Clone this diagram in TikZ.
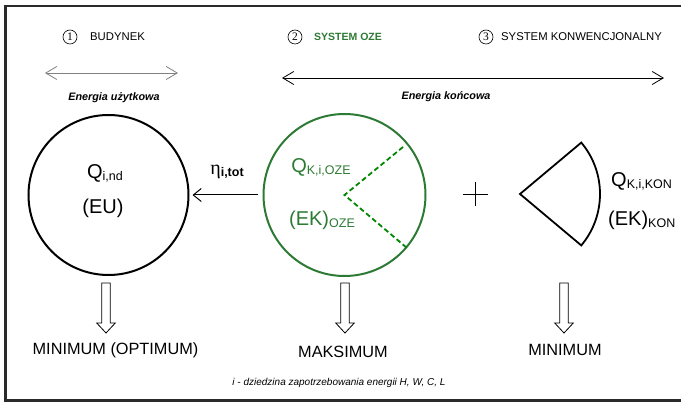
\documentclass[tikz,border=0pt]{standalone}
\usepackage{fontspec}
\setmainfont{Liberation Sans}
\newfontfamily\digitfont{Liberation Serif}
\usetikzlibrary{arrows.meta}
\definecolor{ozegreen}{RGB}{44,122,52}
\definecolor{dashgreen}{RGB}{0,135,0}
\definecolor{framegray}{RGB}{42,42,42}
\newcommand{\lowsub}[1]{\raisebox{-2pt}{\fontsize{12.5}{13}\selectfont #1}}
\begin{document}
\begin{tikzpicture}[x=1pt,y=-1pt,
	numcirc/.style={draw,circle,line width=0.6pt,inner sep=0pt,minimum size=14pt,font=\digitfont\fontsize{11.5}{12}\selectfont},
	headtxt/.style={anchor=west,inner sep=0pt,font=\fontsize{11.3}{12}\selectfont},
	spanarrow/.style={{Straight Barb[length=11pt,width=13pt]}-{Straight Barb[length=11pt,width=13pt]},line width=0.8pt},
	energytxt/.style={inner sep=0pt,font=\bfseries\itshape\fontsize{10.8}{12}\selectfont},
	bigtxt/.style={inner sep=0pt,font=\fontsize{20}{22}\selectfont},
	resulttxt/.style={inner sep=0pt,font=\fontsize{16.3}{18}\selectfont}]
	\useasboundingbox (0,0) rectangle (681,403);
	% frame
	\draw [framegray, line width=2.8pt] (681,6) -- (5.5,6) -- (5.5,400.5) -- (681,400.5);
	% headings
	\node [numcirc] (n1) at (70,37) {1};
	\node [headtxt] (bud_t) at (90,37) {BUDYNEK};
	\node [numcirc] (n2) at (295,37) {2};
	\node [headtxt, font=\bfseries\fontsize{10.5}{12}\selectfont, text=ozegreen] (oze_t) at (314,37) {SYSTEM OZE};
	\node [numcirc] (n3) at (486,37) {3};
	\node [headtxt] (kon_t) at (501,37) {SYSTEM KONWENCJONALNY};
	% ranges
	\coordinate (eu_l) at (45,73);
	\coordinate (eu_r) at (178,73);
	\draw [spanarrow, gray] (eu_l) -- (eu_r);
	\node [energytxt] (eu_lbl) at (114,98) {Energia użytkowa};
	\coordinate (ek_l) at (282,78);
	\coordinate (ek_r) at (664,78);
	\draw [spanarrow] (ek_l) -- (ek_r);
	\node [energytxt] (ek_lbl) at (446,97) {Energia końcowa};
	% circles
	\node [draw, circle, line width=2pt, minimum size=160pt] (bud) at (108.5,195) {};
	\node [draw = ozegreen, circle, line width=2pt, minimum size=162pt] (oze) at (344.5,195) {};
	\node [bigtxt] (qnd) at (105,173) {Q\lowsub{i,nd}};
	\node [bigtxt] (eu) at (103,208) {(EU)};
	\draw [-{Straight Barb[length=8pt,width=13pt]}, line width=1pt, shorten <=5pt, shorten >=3pt] (oze) -- (bud);
	\node [bigtxt] (eta) at (227,172) {{\digitfont η}\lowsub{\bfseries i,tot}};
	\node [bigtxt, text=ozegreen] (qoze) at (321,167) {Q\lowsub{K,i,OZE}};
	\node [bigtxt, text=ozegreen] (ekoze) at (322,220) {(EK)\lowsub{OZE}};
	\coordinate (d1) at (403,147);
	\coordinate (d2) at (407,248);
	\draw [dashgreen, line width=1.8pt, dash pattern=on 5pt off 3pt] (d1) -- (oze.center) -- (d2);
	% plus
	\coordinate (plus) at (475,194);
	\draw [line width=0.6pt] (plus) ++(-12.5,0) -- ++(25,0);
	\draw [line width=0.6pt] (plus) ++(0,-12) -- ++(0,24);
	% sector
	\coordinate (kon) at (520,194);
	\draw [line width=1.8pt] (kon) -- ++(-40:80) arc [start angle=-40, end angle=40, radius=80] -- cycle;
	\node [bigtxt, anchor=west] (qkon) at (611,181) {Q\lowsub{K,i,KON}};
	\node [bigtxt, anchor=west] (ekkon) at (608,220) {(EK)\lowsub{KON}};
	% hollow arrows
	\foreach \ax in {106,345,564}
		\draw [line width=0.8pt] (\ax-4.3,283) -- (\ax+4.3,283) -- (\ax+4.3,323) -- (\ax+9.3,323) -- (\ax,333) -- (\ax-9.3,323) -- (\ax-4.3,323) -- cycle;
	\node [resulttxt] (min_opt) at (115.5,350) {MINIMUM (OPTIMUM)};
	\node [resulttxt] (maks) at (343,352) {MAKSIMUM};
	\node [resulttxt] (min_kon) at (565,350) {MINIMUM};
	\node [inner sep=0pt, font=\itshape\fontsize{10}{12}\selectfont] (note) at (339,383) {i - dziedzina zapotrzebowania energii H, W, C, L};
\end{tikzpicture}
\end{document}
